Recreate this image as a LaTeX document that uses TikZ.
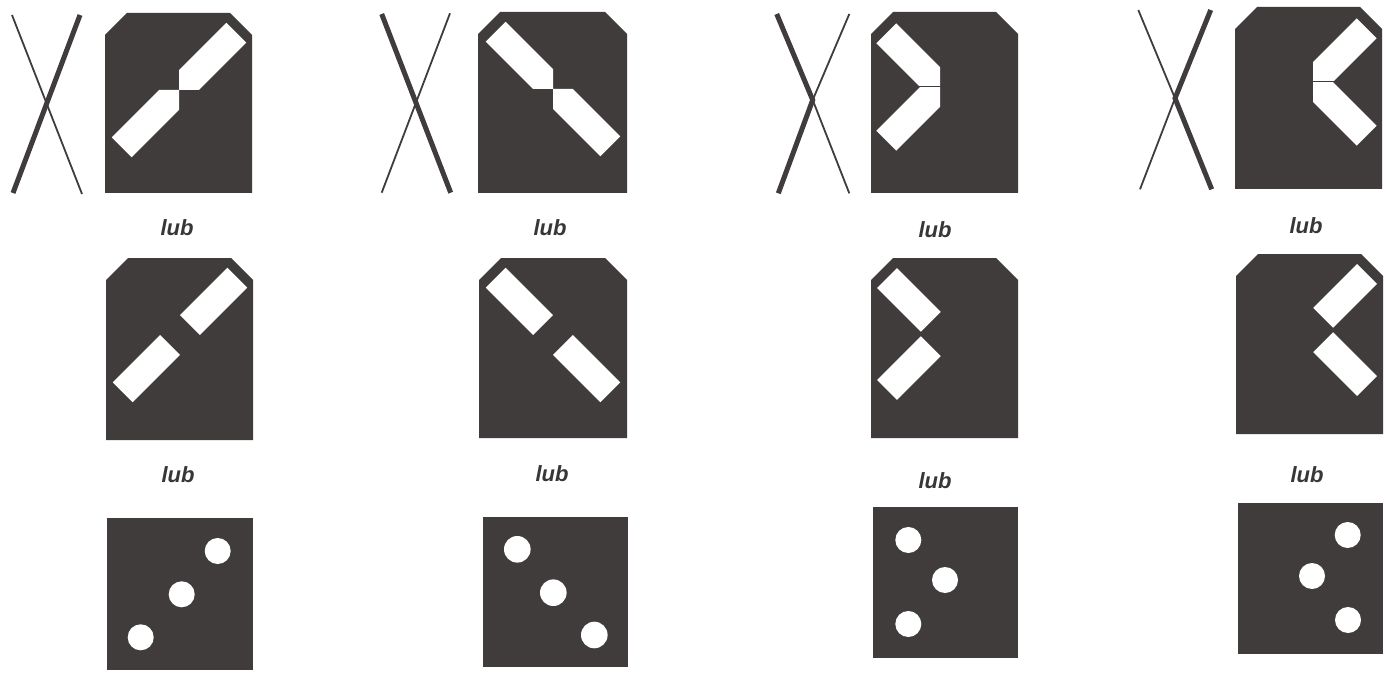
\documentclass[tikz,border=0pt]{standalone}
\usepackage{fontspec}
\setmainfont{Liberation Sans}
\definecolor{panelgray}{RGB}{64,60,60}
\definecolor{textgray}{RGB}{55,55,55}
\tikzset{
  panel/.style={fill=panelgray},
  hole/.style={fill=white},
  thickstroke/.style={draw=panelgray, line width=5pt},
  thinstroke/.style={draw=panelgray, line width=1.8pt},
  lab/.style={text=textgray, font=\fontsize{22}{26}\selectfont\bfseries\itshape, inner sep=0pt},
}
\newcommand{\chamferpanel}[2]{%
  \fill[panel] (0,22) -- (22,0) -- ({#1-22},0) -- (#1,22) -- (#1,#2) -- (0,#2) -- cycle;}
\newcommand{\diagpinch}{%
  \begin{scope}
    \clip (74,77) rectangle (160,-10) (74,77) rectangle (-10,190);
    \fill[hole] (141.2,29.6) -- (121.4,9.8) -- (6.8,124.4) -- (26.6,144.2) -- cycle;
  \end{scope}}
\newcommand{\diagsplit}{%
  \fill[hole] (74,57.2) -- (121.4,9.8) -- (141.2,29.6) -- (93.8,77) -- cycle;
  \fill[hole] (54.2,77) -- (74,96.8) -- (26.6,144.2) -- (6.8,124.4) -- cycle;}
\newcommand{\chevjoin}{%
  \begin{scope}\clip (-10,-10) rectangle (69,74);
    \fill[hole] (25.2,11.4) -- (100.1,86.3) -- (80.3,106.1) -- (5.4,31.2) -- cycle;\end{scope}
  \begin{scope}\clip (-10,76) rectangle (69,190);
    \fill[hole] (25.2,138.6) -- (100.1,63.7) -- (80.3,43.9) -- (5.4,118.8) -- cycle;\end{scope}}
\newcommand{\chevsplit}{%
  \fill[hole] (25.9,10.1) -- (69.7,53.9) -- (49.9,73.7) -- (6.1,29.9) -- cycle;
  \fill[hole] (25.9,141.9) -- (69.7,98.1) -- (49.9,78.3) -- (6.1,122.1) -- cycle;}
\begin{document}
\begin{tikzpicture}[x=1pt,y=-1pt]
\useasboundingbox (0,0) rectangle (1392,679);
\fill[white] (0,0) rectangle (1392,679);
% ---------- column 1 ----------
\draw[thinstroke] (12,15) -- (82,194);
\draw[thickstroke] (80,15) -- (13,193);
\begin{scope}[shift={(105,13)}] \chamferpanel{147}{180} \diagpinch \end{scope}
\node[lab] (lab1a) at (177,228) {lub};
\begin{scope}[shift={(106,258)}] \chamferpanel{147}{182} \diagsplit \end{scope}
\node[lab] (lab1b) at (178,475) {lub};
\fill[panel] (107,518) rectangle (253,670);
\fill[hole] (217.7,551) circle[radius=13] (181.7,594.3) circle[radius=13] (140.7,637.3) circle[radius=13];
% ---------- column 2 ----------
\draw[thinstroke] (450,13.3) -- (381.7,192.7);
\draw[thickstroke] (381.7,14) -- (450.7,192.7);
\begin{scope}[shift={(627,12)},xscale=-1] \chamferpanel{149}{181} \diagpinch \end{scope}
\node[lab] (lab2a) at (550,228) {lub};
\begin{scope}[shift={(627,258)},xscale=-1] \chamferpanel{148}{180} \diagsplit \end{scope}
\node[lab] (lab2b) at (552,474) {lub};
\fill[panel] (483,517) rectangle (628,667);
\fill[hole] (517.3,549.3) circle[radius=13.3] (553.3,592.7) circle[radius=13.3] (594.3,635) circle[radius=13.3];
% ---------- column 3 ----------
\draw[thinstroke] (849.3,14) -- (812.7,100) -- (849.3,193.3);
\draw[thickstroke] (776.7,14) -- (812.7,100) -- (778.3,193.3);
\begin{scope}[shift={(871,12)}] \chamferpanel{147}{181} \chevjoin \end{scope}
\node[lab] (lab3a) at (935,230) {lub};
\begin{scope}[shift={(871,258)}] \chamferpanel{147}{180} \chevsplit \end{scope}
\node[lab] (lab3b) at (935,481) {lub};
\fill[panel] (873,507) rectangle (1018,658);
\fill[hole] (908.3,540) circle[radius=13] (945,580) circle[radius=13] (908.3,624) circle[radius=13];
% ---------- column 4 ----------
\draw[thinstroke] (1138.3,10) -- (1175,98.3) -- (1140,189.3);
\draw[thickstroke] (1210.7,10) -- (1175,98.3) -- (1211.7,189.3);
\begin{scope}[shift={(1382,7)},xscale=-1] \chamferpanel{147}{182} \chevjoin \end{scope}
\node[lab] (lab4a) at (1306,226) {lub};
\begin{scope}[shift={(1383,254)},xscale=-1] \chamferpanel{147}{180} \chevsplit \end{scope}
\node[lab] (lab4b) at (1307,475) {lub};
\fill[panel] (1238,503) rectangle (1383,654);
\fill[hole] (1347.7,535) circle[radius=13] (1312,576) circle[radius=13] (1348,620) circle[radius=13];
\end{tikzpicture}
\end{document}
